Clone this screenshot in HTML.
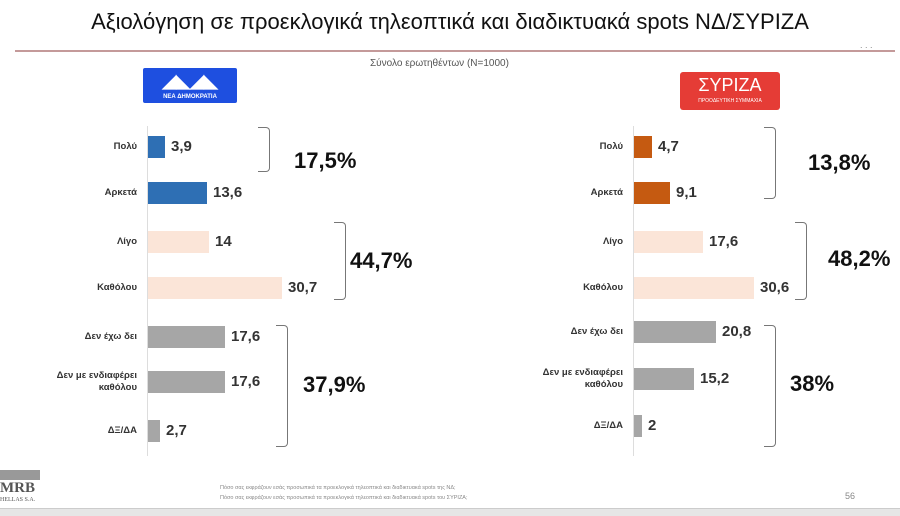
<!DOCTYPE html><html><head><meta charset="utf-8"><style>
body{margin:0;width:900px;height:515px;background:#fff;position:relative;overflow:hidden;font-family:"Liberation Sans",sans-serif;color:#333}
.a{position:absolute}
.lab{position:absolute;font-size:9.5px;font-weight:bold;color:#333;text-align:right;width:110px;line-height:12px}
.bar{position:absolute;height:22px}
.val{position:absolute;font-size:15px;font-weight:bold;color:#333}
.big{position:absolute;font-size:22px;font-weight:bold;color:#111}
.br{position:absolute;border:1.5px solid #777;border-left:none;border-radius:0 4px 4px 0}
</style></head><body>
<div class="a" style="left:0;top:9px;width:900px;text-align:center;font-size:22px;color:#111">Αξιολόγηση σε προεκλογικά τηλεοπτικά και διαδικτυακά spots ΝΔ/ΣΥΡΙΖΑ</div>
<div class="a" style="left:15px;top:50px;width:880px;height:2px;background:#c49a9a"></div>
<div class="a" style="left:860px;top:40px;font-size:9px;color:#888">. . .</div>
<div class="a" style="left:370px;top:58px;font-size:10px;color:#555">Σύνολο ερωτηθέντων (Ν=1000)</div>
<div class="a" style="left:143px;top:68px;width:94px;height:35px;background:#1e4fe0;border-radius:2px;color:#fff;font-size:6px;font-weight:bold;text-align:center"><div style="font-size:18px;line-height:26px">◢◣◢◣</div>ΝΕΑ ΔΗΜΟΚΡΑΤΙΑ</div>
<div class="a" style="left:680px;top:72px;width:100px;height:38px;background:#e53c36;border-radius:3px;color:#fff;text-align:center"><div style="font-size:18px;line-height:26px">ΣΥΡΙΖΑ</div><div style="font-size:5px">ΠΡΟΟΔΕΥΤΙΚΗ ΣΥΜΜΑΧΙΑ</div></div>
<div class="a" style="left:147px;top:126px;width:1px;height:330px;background:#ddd"></div>
<div class="a" style="left:633px;top:126px;width:1px;height:330px;background:#ddd"></div>

<div class="lab" style="left:27px;top:141px">Πολύ</div><div class="bar" style="left:148px;top:136px;width:17px;background:#2e6fb4"></div><div class="val" style="left:171px;top:138px">3,9</div>
<div class="lab" style="left:27px;top:187px">Αρκετά</div><div class="bar" style="left:148px;top:182px;width:59px;background:#2e6fb4"></div><div class="val" style="left:213px;top:184px">13,6</div>
<div class="lab" style="left:27px;top:236px">Λίγο</div><div class="bar" style="left:148px;top:231px;width:61px;background:#fbe5d8"></div><div class="val" style="left:215px;top:233px">14</div>
<div class="lab" style="left:27px;top:282px">Καθόλου</div><div class="bar" style="left:148px;top:277px;width:134px;background:#fbe5d8"></div><div class="val" style="left:288px;top:279px">30,7</div>
<div class="lab" style="left:27px;top:331px">Δεν έχω δει</div><div class="bar" style="left:148px;top:326px;width:77px;background:#a6a6a6"></div><div class="val" style="left:231px;top:328px">17,6</div>
<div class="lab" style="left:27px;top:370px">Δεν με ενδιαφέρει<br>καθόλου</div><div class="bar" style="left:148px;top:371px;width:77px;background:#a6a6a6"></div><div class="val" style="left:231px;top:373px">17,6</div>
<div class="lab" style="left:27px;top:425px">ΔΞ/ΔΑ</div><div class="bar" style="left:148px;top:420px;width:12px;background:#a6a6a6"></div><div class="val" style="left:166px;top:422px">2,7</div>
<div class="br" style="left:258px;top:127px;width:11px;height:43px"></div><div class="big" style="left:294px;top:148px">17,5%</div>
<div class="br" style="left:334px;top:222px;width:11px;height:76px"></div><div class="big" style="left:350px;top:248px">44,7%</div>
<div class="br" style="left:276px;top:325px;width:11px;height:120px"></div><div class="big" style="left:303px;top:372px">37,9%</div>

<div class="lab" style="left:513px;top:141px">Πολύ</div><div class="bar" style="left:634px;top:136px;width:18px;background:#c55a11"></div><div class="val" style="left:658px;top:138px">4,7</div>
<div class="lab" style="left:513px;top:187px">Αρκετά</div><div class="bar" style="left:634px;top:182px;width:36px;background:#c55a11"></div><div class="val" style="left:676px;top:184px">9,1</div>
<div class="lab" style="left:513px;top:236px">Λίγο</div><div class="bar" style="left:634px;top:231px;width:69px;background:#fbe5d8"></div><div class="val" style="left:709px;top:233px">17,6</div>
<div class="lab" style="left:513px;top:282px">Καθόλου</div><div class="bar" style="left:634px;top:277px;width:120px;background:#fbe5d8"></div><div class="val" style="left:760px;top:279px">30,6</div>
<div class="lab" style="left:513px;top:326px">Δεν έχω δει</div><div class="bar" style="left:634px;top:321px;width:82px;background:#a6a6a6"></div><div class="val" style="left:722px;top:323px">20,8</div>
<div class="lab" style="left:513px;top:367px">Δεν με ενδιαφέρει<br>καθόλου</div><div class="bar" style="left:634px;top:368px;width:60px;background:#a6a6a6"></div><div class="val" style="left:700px;top:370px">15,2</div>
<div class="lab" style="left:513px;top:420px">ΔΞ/ΔΑ</div><div class="bar" style="left:634px;top:415px;width:8px;background:#a6a6a6"></div><div class="val" style="left:648px;top:417px">2</div>
<div class="br" style="left:764px;top:127px;width:11px;height:70px"></div><div class="big" style="left:808px;top:150px">13,8%</div>
<div class="br" style="left:795px;top:222px;width:11px;height:76px"></div><div class="big" style="left:828px;top:246px">48,2%</div>
<div class="br" style="left:764px;top:325px;width:11px;height:120px"></div><div class="big" style="left:790px;top:371px">38%</div>

<div class="a" style="left:0;top:470px;width:40px;height:10px;background:#999"></div>
<div class="a" style="left:0;top:481px;font-family:'Liberation Serif',serif;font-size:15px;font-weight:bold;color:#555;line-height:15px">MRB</div>
<div class="a" style="left:0;top:497px;font-family:'Liberation Serif',serif;font-size:6px;color:#555">HELLAS S.A.</div>
<div class="a" style="left:220px;top:483px;font-size:5.5px;color:#888;line-height:10px">Πόσο σας εκφράζουν  εσάς προσωπικά τα προεκλογικά τηλεοπτικά και διαδικτυακά spots της ΝΔ;<br>Πόσο σας εκφράζουν εσάς προσωπικά τα προεκλογικά τηλεοπτικά και διαδικτυακά spots του ΣΥΡΙΖΑ;</div>
<div class="a" style="left:845px;top:491px;font-size:9px;color:#888">56</div>
<div class="a" style="left:0;top:508px;width:900px;height:7px;background:#e6e6e6;border-top:1px solid #ccc"></div>
</body></html>
